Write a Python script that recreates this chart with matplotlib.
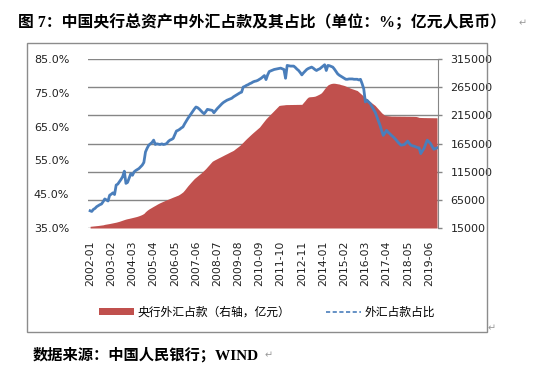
# -*- coding: utf-8 -*-
import matplotlib
matplotlib.use('Agg')
import matplotlib.pyplot as plt
from matplotlib.lines import Line2D
from matplotlib.patches import Patch, Rectangle

plt.rcParams['font.family'] = ['DejaVu Sans', 'Noto Sans CJK SC']

# 月份标签（数据中缺一个月，2013-02）
months = []
y, m = 2002, 1
while len(months) < 214:
    lab = '{}-{:02d}'.format(y, m)
    if lab != '2013-02':
        months.append(lab)
    m += 1
    if m > 12:
        m = 1
        y += 1

# 外汇占款占比（%）
fx_ratio = [
    40.1, 39.9, 40.5, 40.8, 41.3, 41.6, 41.9, 42.1, 42.8, 43.6,
    43.3, 43.0, 44.7, 45.0, 45.4, 44.9, 47.7, 48.0, 48.7, 49.4,
    50.2, 51.8, 48.2, 48.5, 49.8, 51.1, 50.6, 51.6, 52.0, 52.3,
    52.6, 53.1, 53.6, 54.4, 57.5, 58.6, 59.5, 59.9, 60.3, 61.0,
    59.7, 59.9, 59.8, 59.7, 59.9, 59.7, 59.8, 60.0, 60.6, 61.0,
    61.2, 61.5, 62.6, 63.7, 63.9, 64.2, 64.6, 64.9, 65.8, 66.6,
    67.4, 68.1, 68.8, 69.5, 70.2, 70.8, 70.6, 70.2, 69.7, 69.2,
    68.8, 69.4, 70.1, 70.0, 69.9, 69.8, 69.1, 69.7, 70.3, 70.8,
    71.3, 71.8, 72.2, 72.5, 72.8, 73.0, 73.2, 73.4, 73.8, 74.1,
    74.4, 74.7, 75.0, 75.2, 76.7, 76.9, 77.2, 77.4, 77.7, 77.9,
    78.2, 78.4, 78.5, 78.7, 79.0, 79.3, 79.7, 80.1, 78.9, 80.3,
    81.3, 81.5, 81.7, 81.9, 82.0, 82.1, 82.2, 82.3, 82.1, 81.9,
    79.3, 83.1, 83.0, 82.9, 82.9, 82.9, 82.5, 82.0, 81.6, 81.0,
    80.3, 80.9, 81.4, 81.9, 82.2, 82.4, 82.6, 82.3, 81.9, 81.6,
    81.9, 82.1, 82.5, 82.9, 83.3, 81.6, 83.1, 83.0, 82.8, 82.6,
    82.0, 81.3, 80.6, 80.2, 79.9, 79.6, 79.3, 79.0, 79.0, 79.1,
    79.1, 79.1, 79.0, 79.0, 79.0, 78.8, 79.0, 77.7, 76.2, 72.3,
    72.8, 72.3, 71.8, 71.0, 70.1, 69.3, 68.0, 66.7, 65.4, 63.8,
    62.4, 63.1, 63.9, 63.3, 62.9, 62.4, 62.0, 61.5, 61.0, 60.4,
    59.9, 59.5, 59.6, 59.7, 60.2, 60.7, 60.0, 59.5, 59.3, 59.2,
    59.0, 58.8, 58.7, 57.0, 57.8, 58.5, 59.8, 61.0, 60.5, 60.0,
    59.1, 58.3, 58.5, 58.7,
]

# 央行外汇占款（亿元）
fx_amount = [
    18000, 18300, 18600, 18900, 19200, 19500, 19900, 20300, 20700, 21500,
    22000, 22500, 23000, 23600, 24200, 24800, 25400, 26200, 27000, 28000,
    29000, 30000, 30900, 31600, 32200, 32900, 33600, 34300, 35000, 35800,
    36800, 37900, 39200, 40900, 44000, 46500, 48600, 50300, 52000, 53700,
    55300, 57000, 58600, 60000, 61300, 62600, 63800, 65100, 66300, 67500,
    68700, 69900, 71000, 72200, 73300, 75000, 77000, 79200, 82500, 86200,
    89900, 93200, 96500, 99700, 102800, 105200, 107600, 110000, 112200, 115000,
    117700, 120500, 123800, 127000, 130300, 133500, 135200, 136700, 138200, 139700,
    141100, 142600, 144100, 145600, 147000, 148500, 150000, 151400, 152900, 155200,
    157400, 159600, 161800, 164700, 167600, 170600, 173500, 176200, 178900, 181600,
    184200, 186700, 189200, 191700, 194200, 197900, 201600, 205300, 208900, 211900,
    214800, 217800, 220700, 223700, 226600, 229600, 232500, 233000, 233300, 233600,
    234000, 234100, 234100, 234200, 234200, 234300, 234300, 234400, 234400, 234500,
    234500, 238000, 241300, 245000, 247500, 248000, 248200, 248500, 249000, 250200,
    251600, 253100, 255000, 258500, 262500, 266000, 269000, 270500, 271500, 272000,
    272000, 271500, 271000, 270500, 269500, 268800, 268000, 266800, 265500, 264200,
    263000, 262000, 261000, 260000, 259000, 256500, 253900, 251400, 248900, 246400,
    243800, 241300, 239100, 236900, 234700, 232500, 229200, 226000, 222800, 219500,
    217100, 214800, 214500, 214200, 213900, 213600, 213600, 213600, 213500, 213500,
    213500, 213400, 213400, 213400, 213300, 213300, 213300, 213200, 213200, 213100,
    213000, 212300, 211300, 211200, 211100, 211000, 211000, 210900, 210900, 210800,
    210800, 210700, 210700, 210700,
]

left_ticks = [35, 45, 55, 65, 75, 85]
left_labels = ['35.0%', '45.0%', '55.0%', '65.0%', '75.0%', '85.0%']
right_ticks = [15000, 65000, 115000, 165000, 215000, 265000, 315000]

red = '#C0504D'
blue = '#4A7EBB'
gray = '#868686'

fig = plt.figure(figsize=(5.46, 3.77), dpi=100)
ax2 = fig.add_axes([88 / 546, 149 / 377, 350 / 546, 169 / 377])
ax = ax2.twinx()
# 让左轴（折线）在上层
ax2.yaxis.tick_right()

x = list(range(len(months)))
ax2.fill_between(x, 15000, fx_amount, color=red, lw=0)
ax2.set_ylim(15000, 315000)
ax2.set_yticks(right_ticks)
ax2.set_yticklabels([str(v) for v in right_ticks])
ax2.grid(axis='y', color=gray, lw=1)
ax2.set_axisbelow(True)
ax2.tick_params(axis='y', which='both', right=True, left=False, labelright=True,
                labelleft=False, length=3, width=1, color=gray, pad=6,
                labelsize=8, labelcolor='#222222')

ax.plot(x, fx_ratio, color=blue, lw=2)
ax.set_ylim(35, 85)
ax.yaxis.tick_left()
ax.set_yticks(left_ticks)
ax.set_yticklabels(left_labels)
ax.tick_params(axis='y', left=False, right=False, labelleft=True, labelright=False,
               pad=10, labelsize=8, labelcolor='#222222')

ax2.set_xlim(-1.3, 213.6)
ax2.set_xticks(x[::13])
ax2.set_xticklabels(months[::13], rotation=90)
ax2.tick_params(axis='x', length=0, pad=9, labelsize=7.8, labelcolor='#222222')

for a in (ax, ax2):
    a.spines['top'].set_visible(False)
    a.spines['left'].set_visible(False)
    a.spines['bottom'].set_visible(False)
    a.spines['right'].set_visible(False)
ax2.spines['right'].set_visible(True)
ax2.spines['right'].set_color(gray)

# 图例
handles = [Patch(facecolor=red, edgecolor='none'),
           Line2D([0], [0], color=blue, lw=1.2, ls=(0, (2.5, 1.5)))]
fig.legend(handles, ['央行外汇占款（右轴，亿元）', '外汇占款占比'],
           loc='center left', bbox_to_anchor=(88 / 546, 1 - 312 / 377),
           ncol=2, frameon=False, fontsize=8.5, handlelength=3.0,
           handleheight=0.5, handletextpad=0.3, columnspacing=3.0)

# 外框
fig.add_artist(Rectangle((27 / 546, 45 / 377), 460 / 546, 289 / 377,
                         transform=fig.transFigure, fill=False, ec='#8C8C8C', lw=1))

fig.text(18 / 546, 1 - 23 / 377,
         '图 7：中国央行总资产中外汇占款及其占比（单位：%；亿元人民币）',
         family=['Liberation Serif', 'Noto Sans CJK SC'], weight='bold',
         fontsize=11.4, va='center', ha='left')
fig.text(519 / 546, 1 - 23 / 377, '↵', fontsize=7, color='#999999', va='center')
fig.text(488 / 546, 1 - 328 / 377, '↵', fontsize=7, color='#999999', va='center')
fig.text(33 / 546, 1 - 355 / 377, '数据来源：中国人民银行；WIND',
         family=['Liberation Serif', 'Noto Sans CJK SC'], weight='bold',
         fontsize=11, va='center', ha='left')
fig.text(265 / 546, 1 - 355 / 377, '↵', fontsize=7, color='#999999', va='center')

fig.savefig('out.png', dpi=100)
